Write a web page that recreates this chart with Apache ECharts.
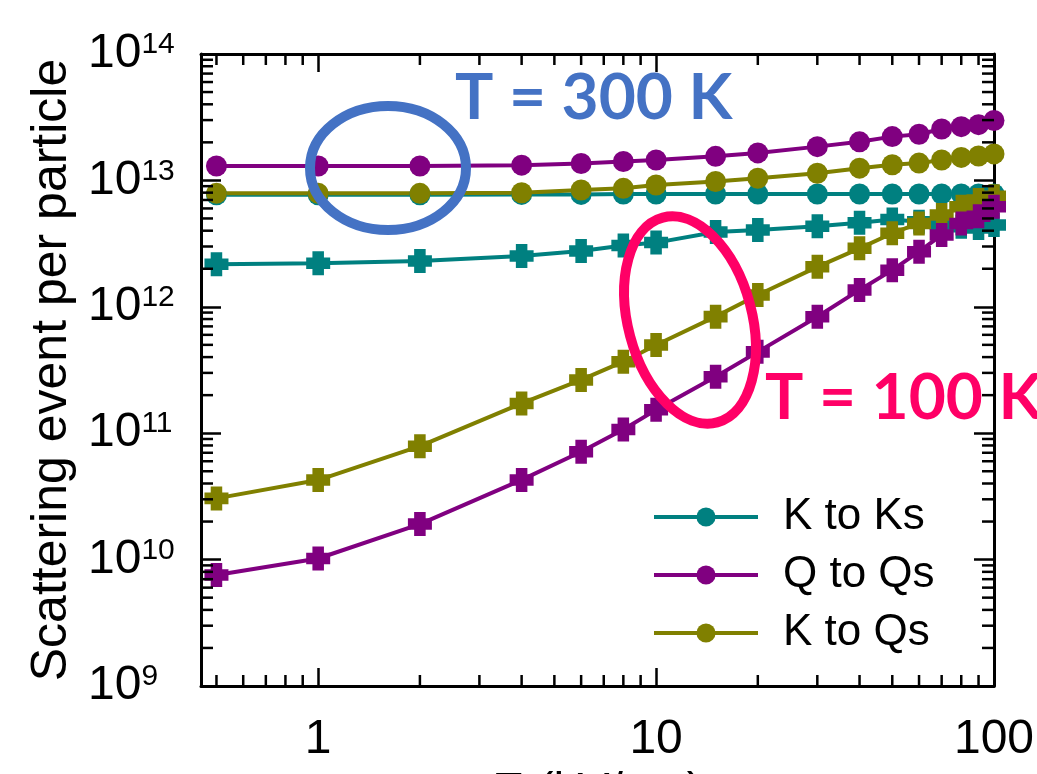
<!DOCTYPE html>
<html>
<head>
<meta charset="utf-8">
<script src="https://cdn.jsdelivr.net/npm/echarts@6/dist/echarts.min.js"></script>
<style>
  html, body { margin: 0; padding: 0; background: #fff; }
  #chart { width: 1037px; height: 774px; }
</style>
</head>
<body>
<div id="chart"></div>
<script>
// electric field values (kV/cm)
const energy = [0.5, 1, 2, 4, 6, 8, 10, 15, 20, 30, 40, 50, 60, 70, 80, 90, 100];

// T = 300 K (circles)
const kToKs300 = [7.7e12, 7.7e12, 7.7e12, 7.75e12, 7.75e12, 7.8e12, 7.8e12, 7.8e12, 7.8e12, 7.8e12, 7.8e12, 7.8e12, 7.8e12, 7.8e12, 7.8e12, 7.8e12, 7.8e12];
const qToQs300 = [1.3e13, 1.3e13, 1.3e13, 1.32e13, 1.36e13, 1.41e13, 1.45e13, 1.55e13, 1.65e13, 1.85e13, 2.02e13, 2.22e13, 2.32e13, 2.55e13, 2.66e13, 2.76e13, 2.98e13];
const kToQs300 = [7.9e12, 7.9e12, 7.9e12, 7.98e12, 8.4e12, 8.65e12, 9.2e12, 9.8e12, 1.04e13, 1.14e13, 1.25e13, 1.33e13, 1.37e13, 1.45e13, 1.52e13, 1.56e13, 1.62e13];

// T = 100 K (plus markers)
const kToKs100 = [2.17e12, 2.21e12, 2.3e12, 2.52e12, 2.76e12, 3.05e12, 3.22e12, 3.9e12, 4.05e12, 4.33e12, 4.62e12, 4.9e12, 4.7e12, 4.5e12, 4.3e12, 4.2e12, 4.43e12];
const qToQs100 = [7.55e9, 1.02e10, 1.91e10, 4.27e10, 7.14e10, 1.07e11, 1.53e11, 2.8e11, 4.4e11, 8.35e11, 1.36e12, 1.95e12, 2.73e12, 3.7e12, 4.57e12, 5.2e12, 6.2e12];
const kToQs100 = [3.05e10, 4.26e10, 7.9e10, 1.72e11, 2.64e11, 3.68e11, 4.99e11, 8.36e11, 1.24e12, 2.07e12, 2.9e12, 3.82e12, 4.57e12, 5.32e12, 6.2e12, 7.0e12, 7.5e12];

// axis ranges and minor ticks
const xRange = [0.45, 100];
const yRange = [1e9, 1e14];
const xMinorTicks = [0.5, 0.6, 0.7, 0.8, 0.9, 2, 3, 4, 5, 6, 7, 8, 9, 20, 30, 40, 50, 60, 70, 80, 90];
const yMinorTicks = [];
for (let e = 9; e < 14; e++) {
  for (let m = 2; m <= 9; m++) yMinorTicks.push(m * Math.pow(10, e));
}

const TEAL = '#008080';
const PURPLE = '#800080';
const OLIVE = '#808000';
const PLUS = 'path://M2.6,0H7.4V2.6H10V7.4H7.4V10H2.6V7.4H0V2.6H2.6Z';

function pairs(ys) {
  return energy.map((x, i) => [x, ys[i]]);
}

function lineSeries(name, color, ys, symbol, size) {
  return {
    name: name,
    type: 'line',
    data: pairs(ys),
    symbol: symbol,
    symbolSize: size,
    showAllSymbol: true,
    lineStyle: { color: color, width: 4 },
    itemStyle: { color: color },
    emphasis: { disabled: true },
    z: 3
  };
}

function isPow10(v) {
  const e = Math.log10(v);
  return Math.abs(e - Math.round(e)) < 1e-6;
}

const chart = echarts.init(document.getElementById('chart'));

const fontFam = 'Liberation Sans, Arial, sans-serif';

chart.setOption({
  animation: false,
  textStyle: { fontFamily: fontFam },
  grid: { left: 201, right: 43, top: 54, bottom: 88, outerBoundsMode: 'none', containLabel: false },
  legend: {
    orient: 'vertical',
    left: 647,
    top: 490,
    itemWidth: 104,
    itemHeight: 24,
    itemGap: 14,
    data: ['K to Ks', 'Q to Qs', 'K to Qs'],
    lineStyle: { width: 4 },
    textStyle: { fontSize: 44, color: '#000', fontFamily: fontFam, padding: [0, 0, 0, 20] },
    selectedMode: false
  },
  xAxis: [
    {
      type: 'log',
      logBase: 10,
      min: xRange[0],
      max: xRange[1],
      name: 'E (kV/cm)',
      nameLocation: 'middle',
      nameGap: 80,
      nameTextStyle: { fontSize: 48, color: '#000', verticalAlign: 'top' },
      axisLine: { lineStyle: { color: '#000', width: 3 } },
      axisTick: { inside: true, length: 18, lineStyle: { color: '#000', width: 2.5 } },
      axisLabel: {
        fontSize: 48,
        color: '#000',
        margin: 30,
        showMinLabel: true,
        showMaxLabel: true,
        formatter: v => isPow10(v) ? String(Math.round(v)) : ''
      },
      splitLine: { show: false }
    },
    {
      type: 'log',
      logBase: 10,
      position: 'top',
      min: xRange[0],
      max: xRange[1],
      axisLine: { lineStyle: { color: '#000', width: 3 } },
      axisTick: { inside: true, length: 18, lineStyle: { color: '#000', width: 2.5 } },
      axisLabel: { show: false },
      splitLine: { show: false }
    }
  ],
  yAxis: [
    {
      type: 'log',
      logBase: 10,
      min: yRange[0],
      max: yRange[1],
      splitNumber: 5,
      name: 'Scattering event per particle',
      nameLocation: 'middle',
      nameGap: 122,
      nameTextStyle: { fontSize: 50, color: '#000' },
      axisLine: { lineStyle: { color: '#000', width: 3 } },
      axisTick: { inside: true, length: 20, lineStyle: { color: '#000', width: 2.5 } },
      axisLabel: {
        margin: 113,
        align: 'left',
        color: '#000',
        formatter: v => '{b|10}{s|' + Math.round(Math.log10(v)) + '}',
        rich: {
          b: { fontSize: 48, lineHeight: 48, color: '#000', fontFamily: fontFam },
          s: { fontSize: 30, lineHeight: 30, color: '#000', verticalAlign: 'top', fontFamily: fontFam }
        }
      },
      splitLine: { show: false }
    },
    {
      type: 'log',
      logBase: 10,
      position: 'right',
      min: yRange[0],
      max: yRange[1],
      splitNumber: 5,
      axisLine: { lineStyle: { color: '#000', width: 3 } },
      axisTick: { inside: true, length: 20, lineStyle: { color: '#000', width: 2.5 } },
      axisLabel: { show: false },
      splitLine: { show: false }
    }
  ],
  series: [
    lineSeries('K to Ks', TEAL, kToKs300, 'circle', 21),
    lineSeries('Q to Qs', PURPLE, qToQs300, 'circle', 21),
    lineSeries('K to Qs', OLIVE, kToQs300, 'circle', 21),
    lineSeries('K to Ks', TEAL, kToKs100, PLUS, 24),
    lineSeries('K to Qs', OLIVE, kToQs100, PLUS, 24),
    lineSeries('Q to Qs', PURPLE, qToQs100, PLUS, 24),
    {
      // minor ticks on x (bottom and top)
      type: 'custom',
      silent: true,
      clip: false,
      data: xMinorTicks.map(v => [v, yRange[0]]),
      renderItem: (params, api) => {
        const v = api.value(0);
        const b = api.coord([v, yRange[0]]);
        const t = api.coord([v, yRange[1]]);
        const st = { stroke: '#000', lineWidth: 2.5 };
        return {
          type: 'group',
          children: [
            { type: 'line', shape: { x1: b[0], y1: b[1], x2: b[0], y2: b[1] - 11 }, style: st },
            { type: 'line', shape: { x1: t[0], y1: t[1], x2: t[0], y2: t[1] + 11 }, style: st }
          ]
        };
      },
      z: 4
    },
    {
      // minor ticks on y (left and right)
      type: 'custom',
      silent: true,
      clip: false,
      data: yMinorTicks.map(v => [xRange[0], v]),
      renderItem: (params, api) => {
        const v = api.value(1);
        const l = api.coord([xRange[0], v]);
        const r = api.coord([xRange[1], v]);
        const st = { stroke: '#000', lineWidth: 2.5 };
        return {
          type: 'group',
          children: [
            { type: 'line', shape: { x1: l[0], y1: l[1], x2: l[0] + 12, y2: l[1] }, style: st },
            { type: 'line', shape: { x1: r[0], y1: r[1], x2: r[0] - 12, y2: r[1] }, style: st }
          ]
        };
      },
      z: 4
    }
  ],
  graphic: [
    {
      type: 'ellipse',
      shape: { cx: 388, cy: 168, rx: 78, ry: 62 },
      style: { fill: 'none', stroke: '#4472C4', lineWidth: 10 },
      z: 10
    },
    {
      type: 'text',
      x: 455,
      y: 66,
      style: { text: 'T = 300 K', fill: '#4472C4', font: 'bold 64px Lato, "Open Sans", sans-serif' },
      z: 10
    },
    {
      type: 'ellipse',
      x: 690,
      y: 320,
      rotation: 0.26,
      shape: { cx: 0, cy: 0, rx: 62, ry: 106 },
      style: { fill: 'none', stroke: '#FF0066', lineWidth: 10 },
      z: 10
    },
    {
      type: 'text',
      x: 765,
      y: 366,
      style: { text: 'T = 100 K', fill: '#FF0066', font: 'bold 64px Lato, "Open Sans", sans-serif' },
      z: 10
    }
  ]
});
</script>
</body>
</html>
